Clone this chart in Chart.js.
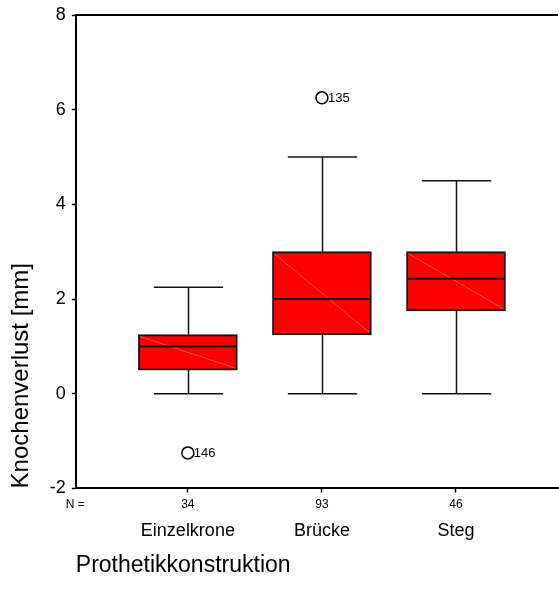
<!DOCTYPE html>
<html>
<head>
<meta charset="utf-8">
<script src="https://cdn.jsdelivr.net/npm/chart.js@4/dist/chart.umd.min.js"></script>
<style>
  html, body { margin: 0; padding: 0; background: #fff; }
  canvas { display: block; }
</style>
</head>
<body>
<canvas id="box" width="559" height="599"></canvas>
<script>
// Bone loss (mm) by prosthetic construction type
const categories = ['Einzelkrone', 'Brücke', 'Steg'];
const counts = [34, 93, 46];
const whiskerLow = [0, 0, 0];
const quartile1 = [0.5, 1.25, 1.75];
const medians = [1.0, 2.0, 2.43];
const quartile3 = [1.25, 3.0, 3.0];
const whiskerHigh = [2.25, 5.0, 4.5];
const outlierGroup = [1, 2];          // 1-based group index
const outlierValues = [-1.25, 6.25];
const outlierIds = ['146', '135'];
const yTicks = [-2, 0, 2, 4, 6, 8];

const FONT = "'Liberation Sans', Arial, Helvetica, sans-serif";
const BOX_COLOR = '#ff0000';
const LINE_COLOR = '#141414';

const positions = categories.map((_, i) => i + 1);

const boxData = positions.map((x, i) => ({ x: x, y: [quartile1[i], quartile3[i]] }));
const outlierData = outlierGroup.map((g, i) => ({ x: g, y: outlierValues[i], id: outlierIds[i] }));

// Whiskers, caps, medians, diagonal sheen, outlier ids, frame and "N =" caption
const boxExtras = {
  id: 'boxExtras',
  beforeDatasetsDraw(chart) {
    const { ctx } = chart;
    const xs = chart.scales.x, ys = chart.scales.y;
    const barMeta = chart.getDatasetMeta(0);
    ctx.save();
    ctx.strokeStyle = LINE_COLOR;
    ctx.lineWidth = 1.5;
    positions.forEach((p, i) => {
      const cx = Math.round(xs.getPixelForValue(p)) + 0.5;
      const half = barMeta.data[i].width * 0.35;
      const yLo = ys.getPixelForValue(whiskerLow[i]);
      const yHi = ys.getPixelForValue(whiskerHigh[i]);
      const yQ1 = ys.getPixelForValue(quartile1[i]);
      const yQ3 = ys.getPixelForValue(quartile3[i]);
      ctx.beginPath();
      ctx.moveTo(cx, yQ1); ctx.lineTo(cx, yLo);
      ctx.moveTo(cx, yQ3); ctx.lineTo(cx, yHi);
      ctx.moveTo(cx - half, yLo); ctx.lineTo(cx + half, yLo);
      ctx.moveTo(cx - half, yHi); ctx.lineTo(cx + half, yHi);
      ctx.stroke();
    });
    ctx.restore();
  },
  afterDatasetsDraw(chart) {
    const { ctx, chartArea } = chart;
    const xs = chart.scales.x, ys = chart.scales.y;
    const barMeta = chart.getDatasetMeta(0);
    ctx.save();
    positions.forEach((p, i) => {
      const bar = barMeta.data[i];
      const left = bar.x - bar.width / 2, right = bar.x + bar.width / 2;
      const top = ys.getPixelForValue(quartile3[i]);
      const bottom = ys.getPixelForValue(quartile1[i]);
      // faint diagonal sheen across the box
      ctx.strokeStyle = 'rgba(255,130,130,0.8)';
      ctx.lineWidth = 0.8;
      ctx.beginPath();
      ctx.moveTo(left + 2, top + 2);
      ctx.lineTo(right - 2, bottom - 2);
      ctx.stroke();
      // median
      const ym = ys.getPixelForValue(medians[i]);
      ctx.strokeStyle = LINE_COLOR;
      ctx.lineWidth = 2;
      ctx.beginPath();
      ctx.moveTo(left + 1, ym);
      ctx.lineTo(right - 1, ym);
      ctx.stroke();
    });
    // outlier case numbers
    ctx.fillStyle = '#000';
    ctx.font = '13px ' + FONT;
    ctx.textAlign = 'left';
    ctx.textBaseline = 'middle';
    outlierData.forEach(o => {
      ctx.fillText(o.id, xs.getPixelForValue(o.x) + 6, ys.getPixelForValue(o.y) + 1);
    });
    // top frame line
    ctx.strokeStyle = '#000';
    ctx.lineWidth = 2;
    ctx.beginPath();
    ctx.moveTo(chartArea.left, chartArea.top);
    ctx.lineTo(chartArea.right, chartArea.top);
    ctx.stroke();
    // "N =" caption in the count row
    ctx.font = '12px ' + FONT;
    ctx.textAlign = 'left';
    ctx.fillText('N =', chartArea.left - 10, xs.top + 4 + 5 + 7);
    ctx.restore();
  }
};

const xRange = { min: 0.164, max: 3.761 };

new Chart(document.getElementById('box'), {
  type: 'bar',
  data: {
    datasets: [
      {
        type: 'bar',
        data: boxData,
        backgroundColor: BOX_COLOR,
        borderColor: LINE_COLOR,
        borderWidth: 2,
        borderSkipped: false,
        barThickness: 99,
        xAxisID: 'x',
        yAxisID: 'y',
        order: 2
      },
      {
        type: 'scatter',
        data: outlierData,
        pointStyle: 'circle',
        pointRadius: 6,
        pointBorderWidth: 1.5,
        pointBorderColor: '#000',
        pointBackgroundColor: 'rgba(255,255,255,0)',
        xAxisID: 'x',
        yAxisID: 'y',
        order: 1
      }
    ]
  },
  options: {
    responsive: false,
    animation: false,
    devicePixelRatio: 1,
    layout: { autoPadding: false, padding: { left: 0, right: 1, top: 8, bottom: 20 } },
    plugins: { legend: { display: false }, tooltip: { enabled: false } },
    scales: {
      x: {
        type: 'linear',
        position: 'bottom',
        offset: false,
        min: xRange.min,
        max: xRange.max,
        afterBuildTicks: s => { s.ticks = positions.map(v => ({ value: v })); },
        ticks: {
          callback: v => String(counts[v - 1]),
          font: { family: FONT, size: 12 },
          color: '#000',
          padding: 5,
          maxRotation: 0,
          autoSkip: false
        },
        grid: { offset: false, drawOnChartArea: false, drawTicks: true, tickLength: 4, tickColor: '#000', tickWidth: 1.5 },
        border: { display: true, color: '#000', width: 2 }
      },
      x2: {
        type: 'linear',
        position: 'bottom',
        offset: false,
        min: xRange.min,
        max: xRange.max,
        afterBuildTicks: s => { s.ticks = positions.map(v => ({ value: v })); },
        ticks: {
          callback: v => categories[v - 1],
          font: { family: FONT, size: 18 },
          color: '#000',
          padding: 3,
          maxRotation: 0,
          autoSkip: false
        },
        grid: { display: false, offset: false, drawTicks: false },
        border: { display: false },
        title: {
          display: true,
          text: 'Prothetikkonstruktion',
          align: 'start',
          color: '#000',
          font: { family: FONT, size: 23 },
          padding: { top: 7, bottom: 0 }
        }
      },
      y: {
        type: 'linear',
        min: -2,
        max: 8,
        afterBuildTicks: s => { s.ticks = yTicks.map(v => ({ value: v })); },
        ticks: {
          font: { family: FONT, size: 18, lineHeight: 1 },
          color: '#000',
          padding: 6
        },
        grid: { drawOnChartArea: false, drawTicks: true, tickLength: 4, tickColor: '#000', tickWidth: 1.5 },
        border: { display: true, color: '#000', width: 2 },
        title: {
          display: true,
          text: 'Knochenverlust [mm]',
          align: 'start',
          color: '#000',
          font: { family: FONT, size: 24 },
          padding: { top: 7, bottom: 8 }
        }
      }
    }
  },
  plugins: [boxExtras]
});
</script>
</body>
</html>
